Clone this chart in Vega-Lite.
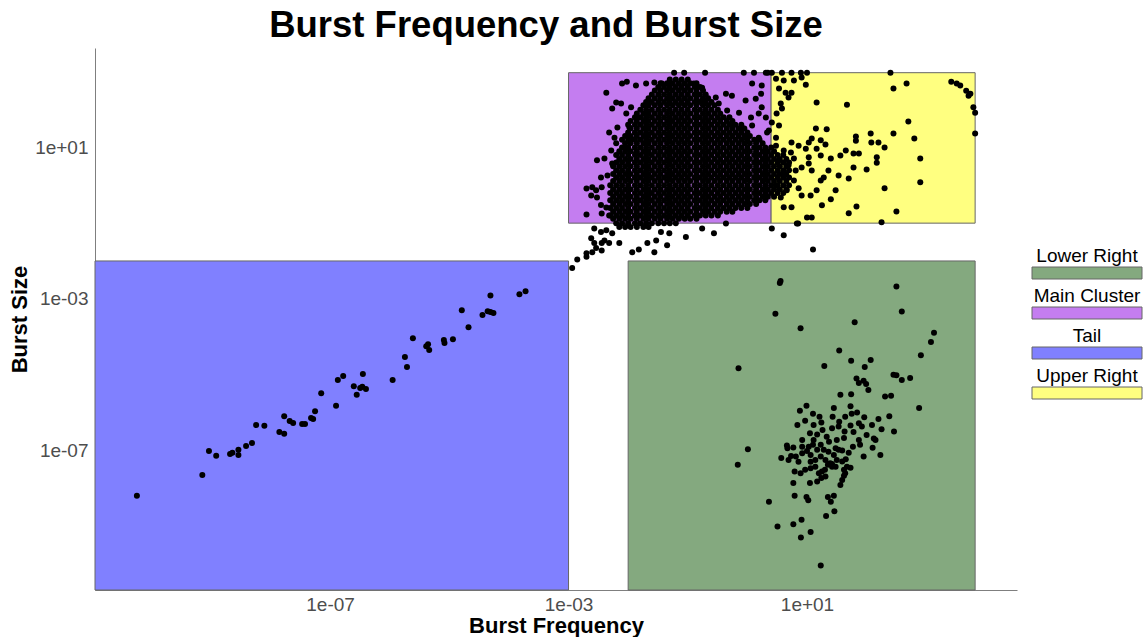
{
"$schema": "https://vega.github.io/schema/vega-lite/v6.json",
"background": "white",
"padding": {"left": 8, "top": 7, "right": 4, "bottom": 1},
"bounds": "flush",
"center": true,
"spacing": 15,
"config": {
  "view": {"stroke": null},
  "font": "Liberation Sans",
  "axis": {"grid": false, "ticks": false, "tickSize": 0, "domainColor": "#7f7f7f", "domainWidth": 1, "labelColor": "#4d4d4d", "labelFontSize": 19, "titleFontSize": 22, "titleFontWeight": "bold", "titleColor": "black", "labelPadding": 7, "labelFlush": false},
  "title": {"fontSize": 36.5, "fontWeight": "bold", "color": "black", "font": "Liberation Sans"}
},
"datasets": {
"regions": [
{"region": "Tail", "freq_min": 1.14e-11, "freq_max": 1e-3, "size_min": 2e-11, "size_max": 1e-2},
{"region": "Lower Right", "freq_min": 1e-2, "freq_max": 6610, "size_min": 2e-11, "size_max": 1e-2},
{"region": "Main Cluster", "freq_min": 1e-3, "freq_max": 2.5, "size_min": 0.1, "size_max": 950},
{"region": "Upper Right", "freq_min": 2.5, "freq_max": 6610, "size_min": 0.1, "size_max": 950}
],
"points": [
{"freq":0.05,"size":630},{"freq":0.063,"size":630},{"freq":0.079,"size":630},{"freq":0.1,"size":630},
{"freq":0.035,"size":500},{"freq":0.045,"size":500},{"freq":0.056,"size":500},{"freq":0.071,"size":500},{"freq":0.089,"size":500},{"freq":0.11,"size":500},{"freq":0.14,"size":500},
{"freq":0.032,"size":400},{"freq":0.04,"size":400},{"freq":0.05,"size":400},{"freq":0.063,"size":400},{"freq":0.079,"size":400},{"freq":0.1,"size":400},{"freq":0.13,"size":400},{"freq":0.16,"size":400},
{"freq":0.028,"size":320},{"freq":0.035,"size":320},{"freq":0.045,"size":320},{"freq":0.056,"size":320},{"freq":0.071,"size":320},{"freq":0.089,"size":320},{"freq":0.11,"size":320},{"freq":0.14,"size":320},{"freq":0.18,"size":320},
{"freq":0.025,"size":250},{"freq":0.032,"size":250},{"freq":0.04,"size":250},{"freq":0.05,"size":250},{"freq":0.063,"size":250},{"freq":0.079,"size":250},{"freq":0.1,"size":250},{"freq":0.13,"size":250},{"freq":0.16,"size":250},{"freq":0.2,"size":250},
{"freq":0.022,"size":200},{"freq":0.028,"size":200},{"freq":0.035,"size":200},{"freq":0.045,"size":200},{"freq":0.056,"size":200},{"freq":0.071,"size":200},{"freq":0.089,"size":200},{"freq":0.11,"size":200},{"freq":0.14,"size":200},{"freq":0.18,"size":200},{"freq":0.22,"size":200},
{"freq":0.02,"size":160},{"freq":0.025,"size":160},{"freq":0.032,"size":160},{"freq":0.04,"size":160},{"freq":0.05,"size":160},{"freq":0.063,"size":160},{"freq":0.079,"size":160},{"freq":0.1,"size":160},{"freq":0.13,"size":160},{"freq":0.16,"size":160},{"freq":0.2,"size":160},{"freq":0.25,"size":160},
{"freq":0.018,"size":130},{"freq":0.022,"size":130},{"freq":0.028,"size":130},{"freq":0.035,"size":130},{"freq":0.045,"size":130},{"freq":0.056,"size":130},{"freq":0.071,"size":130},{"freq":0.089,"size":130},{"freq":0.11,"size":130},{"freq":0.14,"size":130},{"freq":0.18,"size":130},{"freq":0.22,"size":130},{"freq":0.28,"size":130},
{"freq":0.016,"size":100},{"freq":0.02,"size":100},{"freq":0.025,"size":100},{"freq":0.032,"size":100},{"freq":0.04,"size":100},{"freq":0.05,"size":100},{"freq":0.063,"size":100},{"freq":0.079,"size":100},{"freq":0.1,"size":100},{"freq":0.13,"size":100},{"freq":0.16,"size":100},{"freq":0.2,"size":100},{"freq":0.25,"size":100},{"freq":0.32,"size":100},
{"freq":0.014,"size":79},{"freq":0.018,"size":79},{"freq":0.022,"size":79},{"freq":0.028,"size":79},{"freq":0.035,"size":79},{"freq":0.045,"size":79},{"freq":0.056,"size":79},{"freq":0.071,"size":79},{"freq":0.089,"size":79},{"freq":0.11,"size":79},{"freq":0.14,"size":79},{"freq":0.18,"size":79},{"freq":0.22,"size":79},{"freq":0.28,"size":79},{"freq":0.35,"size":79},
{"freq":0.013,"size":63},{"freq":0.016,"size":63},{"freq":0.02,"size":63},{"freq":0.025,"size":63},{"freq":0.032,"size":63},{"freq":0.04,"size":63},{"freq":0.05,"size":63},{"freq":0.063,"size":63},{"freq":0.079,"size":63},{"freq":0.1,"size":63},{"freq":0.13,"size":63},{"freq":0.16,"size":63},{"freq":0.2,"size":63},{"freq":0.25,"size":63},{"freq":0.32,"size":63},{"freq":0.4,"size":63},{"freq":0.5,"size":63},
{"freq":0.011,"size":50},{"freq":0.014,"size":50},{"freq":0.018,"size":50},{"freq":0.022,"size":50},{"freq":0.028,"size":50},{"freq":0.035,"size":50},{"freq":0.045,"size":50},{"freq":0.056,"size":50},{"freq":0.071,"size":50},{"freq":0.089,"size":50},{"freq":0.11,"size":50},{"freq":0.14,"size":50},{"freq":0.18,"size":50},{"freq":0.22,"size":50},{"freq":0.28,"size":50},{"freq":0.35,"size":50},{"freq":0.45,"size":50},{"freq":0.56,"size":50},
{"freq":0.01,"size":40},{"freq":0.013,"size":40},{"freq":0.016,"size":40},{"freq":0.02,"size":40},{"freq":0.025,"size":40},{"freq":0.032,"size":40},{"freq":0.04,"size":40},{"freq":0.05,"size":40},{"freq":0.063,"size":40},{"freq":0.079,"size":40},{"freq":0.1,"size":40},{"freq":0.13,"size":40},{"freq":0.16,"size":40},{"freq":0.2,"size":40},{"freq":0.25,"size":40},{"freq":0.32,"size":40},{"freq":0.4,"size":40},{"freq":0.5,"size":40},{"freq":0.63,"size":40},{"freq":0.79,"size":40},
{"freq":0.011,"size":32},{"freq":0.014,"size":32},{"freq":0.018,"size":32},{"freq":0.022,"size":32},{"freq":0.028,"size":32},{"freq":0.035,"size":32},{"freq":0.045,"size":32},{"freq":0.056,"size":32},{"freq":0.071,"size":32},{"freq":0.089,"size":32},{"freq":0.11,"size":32},{"freq":0.14,"size":32},{"freq":0.18,"size":32},{"freq":0.22,"size":32},{"freq":0.28,"size":32},{"freq":0.35,"size":32},{"freq":0.45,"size":32},{"freq":0.56,"size":32},{"freq":0.71,"size":32},{"freq":0.89,"size":32},
{"freq":0.01,"size":25},{"freq":0.013,"size":25},{"freq":0.016,"size":25},{"freq":0.02,"size":25},{"freq":0.025,"size":25},{"freq":0.032,"size":25},{"freq":0.04,"size":25},{"freq":0.05,"size":25},{"freq":0.063,"size":25},{"freq":0.079,"size":25},{"freq":0.1,"size":25},{"freq":0.13,"size":25},{"freq":0.16,"size":25},{"freq":0.2,"size":25},{"freq":0.25,"size":25},{"freq":0.32,"size":25},{"freq":0.4,"size":25},{"freq":0.5,"size":25},{"freq":0.63,"size":25},{"freq":0.79,"size":25},{"freq":1,"size":25},
{"freq":0.0089,"size":20},{"freq":0.011,"size":20},{"freq":0.014,"size":20},{"freq":0.018,"size":20},{"freq":0.022,"size":20},{"freq":0.028,"size":20},{"freq":0.035,"size":20},{"freq":0.045,"size":20},{"freq":0.056,"size":20},{"freq":0.071,"size":20},{"freq":0.089,"size":20},{"freq":0.11,"size":20},{"freq":0.14,"size":20},{"freq":0.18,"size":20},{"freq":0.22,"size":20},{"freq":0.28,"size":20},{"freq":0.35,"size":20},{"freq":0.45,"size":20},{"freq":0.56,"size":20},{"freq":0.71,"size":20},{"freq":0.89,"size":20},{"freq":1.1,"size":20},
{"freq":0.0079,"size":16},{"freq":0.01,"size":16},{"freq":0.013,"size":16},{"freq":0.016,"size":16},{"freq":0.02,"size":16},{"freq":0.025,"size":16},{"freq":0.032,"size":16},{"freq":0.04,"size":16},{"freq":0.05,"size":16},{"freq":0.063,"size":16},{"freq":0.079,"size":16},{"freq":0.1,"size":16},{"freq":0.13,"size":16},{"freq":0.16,"size":16},{"freq":0.2,"size":16},{"freq":0.25,"size":16},{"freq":0.32,"size":16},{"freq":0.4,"size":16},{"freq":0.5,"size":16},{"freq":0.63,"size":16},{"freq":0.79,"size":16},{"freq":1,"size":16},{"freq":1.3,"size":16},{"freq":1.6,"size":16},
{"freq":0.0089,"size":13},{"freq":0.011,"size":13},{"freq":0.014,"size":13},{"freq":0.018,"size":13},{"freq":0.022,"size":13},{"freq":0.028,"size":13},{"freq":0.035,"size":13},{"freq":0.045,"size":13},{"freq":0.056,"size":13},{"freq":0.071,"size":13},{"freq":0.089,"size":13},{"freq":0.11,"size":13},{"freq":0.14,"size":13},{"freq":0.18,"size":13},{"freq":0.22,"size":13},{"freq":0.28,"size":13},{"freq":0.35,"size":13},{"freq":0.45,"size":13},{"freq":0.56,"size":13},{"freq":0.71,"size":13},{"freq":0.89,"size":13},{"freq":1.1,"size":13},{"freq":1.4,"size":13},{"freq":1.8,"size":13},
{"freq":0.0079,"size":10},{"freq":0.01,"size":10},{"freq":0.013,"size":10},{"freq":0.016,"size":10},{"freq":0.02,"size":10},{"freq":0.025,"size":10},{"freq":0.032,"size":10},{"freq":0.04,"size":10},{"freq":0.05,"size":10},{"freq":0.063,"size":10},{"freq":0.079,"size":10},{"freq":0.1,"size":10},{"freq":0.13,"size":10},{"freq":0.16,"size":10},{"freq":0.2,"size":10},{"freq":0.25,"size":10},{"freq":0.32,"size":10},{"freq":0.4,"size":10},{"freq":0.5,"size":10},{"freq":0.63,"size":10},{"freq":0.79,"size":10},{"freq":1,"size":10},{"freq":1.3,"size":10},{"freq":1.6,"size":10},{"freq":2,"size":10},{"freq":2.5,"size":10},
{"freq":0.0071,"size":7.9},{"freq":0.0089,"size":7.9},{"freq":0.011,"size":7.9},{"freq":0.014,"size":7.9},{"freq":0.018,"size":7.9},{"freq":0.022,"size":7.9},{"freq":0.028,"size":7.9},{"freq":0.035,"size":7.9},{"freq":0.045,"size":7.9},{"freq":0.056,"size":7.9},{"freq":0.071,"size":7.9},{"freq":0.089,"size":7.9},{"freq":0.11,"size":7.9},{"freq":0.14,"size":7.9},{"freq":0.18,"size":7.9},{"freq":0.22,"size":7.9},{"freq":0.28,"size":7.9},{"freq":0.35,"size":7.9},{"freq":0.45,"size":7.9},{"freq":0.56,"size":7.9},{"freq":0.71,"size":7.9},{"freq":0.89,"size":7.9},{"freq":1.1,"size":7.9},{"freq":1.4,"size":7.9},{"freq":1.8,"size":7.9},{"freq":2.2,"size":7.9},{"freq":2.8,"size":7.9},
{"freq":0.0063,"size":6.3},{"freq":0.0079,"size":6.3},{"freq":0.01,"size":6.3},{"freq":0.013,"size":6.3},{"freq":0.016,"size":6.3},{"freq":0.02,"size":6.3},{"freq":0.025,"size":6.3},{"freq":0.032,"size":6.3},{"freq":0.04,"size":6.3},{"freq":0.05,"size":6.3},{"freq":0.063,"size":6.3},{"freq":0.079,"size":6.3},{"freq":0.1,"size":6.3},{"freq":0.13,"size":6.3},{"freq":0.16,"size":6.3},{"freq":0.2,"size":6.3},{"freq":0.25,"size":6.3},{"freq":0.32,"size":6.3},{"freq":0.4,"size":6.3},{"freq":0.5,"size":6.3},{"freq":0.63,"size":6.3},{"freq":0.79,"size":6.3},{"freq":1,"size":6.3},{"freq":1.3,"size":6.3},{"freq":1.6,"size":6.3},{"freq":2,"size":6.3},{"freq":2.5,"size":6.3},{"freq":3.2,"size":6.3},{"freq":4,"size":6.3},
{"freq":0.0071,"size":5},{"freq":0.0089,"size":5},{"freq":0.011,"size":5},{"freq":0.014,"size":5},{"freq":0.018,"size":5},{"freq":0.022,"size":5},{"freq":0.028,"size":5},{"freq":0.035,"size":5},{"freq":0.045,"size":5},{"freq":0.056,"size":5},{"freq":0.071,"size":5},{"freq":0.089,"size":5},{"freq":0.11,"size":5},{"freq":0.14,"size":5},{"freq":0.18,"size":5},{"freq":0.22,"size":5},{"freq":0.28,"size":5},{"freq":0.35,"size":5},{"freq":0.45,"size":5},{"freq":0.56,"size":5},{"freq":0.71,"size":5},{"freq":0.89,"size":5},{"freq":1.1,"size":5},{"freq":1.4,"size":5},{"freq":1.8,"size":5},{"freq":2.2,"size":5},{"freq":2.8,"size":5},{"freq":3.5,"size":5},{"freq":4.5,"size":5},
{"freq":0.0063,"size":4},{"freq":0.0079,"size":4},{"freq":0.01,"size":4},{"freq":0.013,"size":4},{"freq":0.016,"size":4},{"freq":0.02,"size":4},{"freq":0.025,"size":4},{"freq":0.032,"size":4},{"freq":0.04,"size":4},{"freq":0.05,"size":4},{"freq":0.063,"size":4},{"freq":0.079,"size":4},{"freq":0.1,"size":4},{"freq":0.13,"size":4},{"freq":0.16,"size":4},{"freq":0.2,"size":4},{"freq":0.25,"size":4},{"freq":0.32,"size":4},{"freq":0.4,"size":4},{"freq":0.5,"size":4},{"freq":0.63,"size":4},{"freq":0.79,"size":4},{"freq":1,"size":4},{"freq":1.3,"size":4},{"freq":1.6,"size":4},{"freq":2,"size":4},{"freq":2.5,"size":4},{"freq":3.2,"size":4},{"freq":4,"size":4},{"freq":5,"size":4},
{"freq":0.0056,"size":3.2},{"freq":0.0071,"size":3.2},{"freq":0.0089,"size":3.2},{"freq":0.011,"size":3.2},{"freq":0.014,"size":3.2},{"freq":0.018,"size":3.2},{"freq":0.022,"size":3.2},{"freq":0.028,"size":3.2},{"freq":0.035,"size":3.2},{"freq":0.045,"size":3.2},{"freq":0.056,"size":3.2},{"freq":0.071,"size":3.2},{"freq":0.089,"size":3.2},{"freq":0.11,"size":3.2},{"freq":0.14,"size":3.2},{"freq":0.18,"size":3.2},{"freq":0.22,"size":3.2},{"freq":0.28,"size":3.2},{"freq":0.35,"size":3.2},{"freq":0.45,"size":3.2},{"freq":0.56,"size":3.2},{"freq":0.71,"size":3.2},{"freq":0.89,"size":3.2},{"freq":1.1,"size":3.2},{"freq":1.4,"size":3.2},{"freq":1.8,"size":3.2},{"freq":2.2,"size":3.2},{"freq":2.8,"size":3.2},{"freq":3.5,"size":3.2},{"freq":4.5,"size":3.2},
{"freq":0.0063,"size":2.5},{"freq":0.0079,"size":2.5},{"freq":0.01,"size":2.5},{"freq":0.013,"size":2.5},{"freq":0.016,"size":2.5},{"freq":0.02,"size":2.5},{"freq":0.025,"size":2.5},{"freq":0.032,"size":2.5},{"freq":0.04,"size":2.5},{"freq":0.05,"size":2.5},{"freq":0.063,"size":2.5},{"freq":0.079,"size":2.5},{"freq":0.1,"size":2.5},{"freq":0.13,"size":2.5},{"freq":0.16,"size":2.5},{"freq":0.2,"size":2.5},{"freq":0.25,"size":2.5},{"freq":0.32,"size":2.5},{"freq":0.4,"size":2.5},{"freq":0.5,"size":2.5},{"freq":0.63,"size":2.5},{"freq":0.79,"size":2.5},{"freq":1,"size":2.5},{"freq":1.3,"size":2.5},{"freq":1.6,"size":2.5},{"freq":2,"size":2.5},{"freq":2.5,"size":2.5},{"freq":3.2,"size":2.5},{"freq":4,"size":2.5},{"freq":5,"size":2.5},
{"freq":0.0056,"size":2},{"freq":0.0071,"size":2},{"freq":0.0089,"size":2},{"freq":0.011,"size":2},{"freq":0.014,"size":2},{"freq":0.018,"size":2},{"freq":0.022,"size":2},{"freq":0.028,"size":2},{"freq":0.035,"size":2},{"freq":0.045,"size":2},{"freq":0.056,"size":2},{"freq":0.071,"size":2},{"freq":0.089,"size":2},{"freq":0.11,"size":2},{"freq":0.14,"size":2},{"freq":0.18,"size":2},{"freq":0.22,"size":2},{"freq":0.28,"size":2},{"freq":0.35,"size":2},{"freq":0.45,"size":2},{"freq":0.56,"size":2},{"freq":0.71,"size":2},{"freq":0.89,"size":2},{"freq":1.1,"size":2},{"freq":1.4,"size":2},{"freq":1.8,"size":2},{"freq":2.2,"size":2},{"freq":2.8,"size":2},{"freq":3.5,"size":2},{"freq":4.5,"size":2},
{"freq":0.0063,"size":1.6},{"freq":0.0079,"size":1.6},{"freq":0.01,"size":1.6},{"freq":0.013,"size":1.6},{"freq":0.016,"size":1.6},{"freq":0.02,"size":1.6},{"freq":0.025,"size":1.6},{"freq":0.032,"size":1.6},{"freq":0.04,"size":1.6},{"freq":0.05,"size":1.6},{"freq":0.063,"size":1.6},{"freq":0.079,"size":1.6},{"freq":0.1,"size":1.6},{"freq":0.13,"size":1.6},{"freq":0.16,"size":1.6},{"freq":0.2,"size":1.6},{"freq":0.25,"size":1.6},{"freq":0.32,"size":1.6},{"freq":0.4,"size":1.6},{"freq":0.5,"size":1.6},{"freq":0.63,"size":1.6},{"freq":0.79,"size":1.6},{"freq":1,"size":1.6},{"freq":1.3,"size":1.6},{"freq":1.6,"size":1.6},{"freq":2,"size":1.6},{"freq":2.5,"size":1.6},{"freq":3.2,"size":1.6},{"freq":4,"size":1.6},{"freq":5,"size":1.6},
{"freq":0.0056,"size":1.3},{"freq":0.0071,"size":1.3},{"freq":0.0089,"size":1.3},{"freq":0.011,"size":1.3},{"freq":0.014,"size":1.3},{"freq":0.018,"size":1.3},{"freq":0.022,"size":1.3},{"freq":0.028,"size":1.3},{"freq":0.035,"size":1.3},{"freq":0.045,"size":1.3},{"freq":0.056,"size":1.3},{"freq":0.071,"size":1.3},{"freq":0.089,"size":1.3},{"freq":0.11,"size":1.3},{"freq":0.14,"size":1.3},{"freq":0.18,"size":1.3},{"freq":0.22,"size":1.3},{"freq":0.28,"size":1.3},{"freq":0.35,"size":1.3},{"freq":0.45,"size":1.3},{"freq":0.56,"size":1.3},{"freq":0.71,"size":1.3},{"freq":0.89,"size":1.3},{"freq":1.1,"size":1.3},{"freq":1.4,"size":1.3},{"freq":1.8,"size":1.3},{"freq":2.2,"size":1.3},{"freq":2.8,"size":1.3},{"freq":3.5,"size":1.3},{"freq":4.5,"size":1.3},
{"freq":0.005,"size":1},{"freq":0.0063,"size":1},{"freq":0.0079,"size":1},{"freq":0.01,"size":1},{"freq":0.013,"size":1},{"freq":0.016,"size":1},{"freq":0.02,"size":1},{"freq":0.025,"size":1},{"freq":0.032,"size":1},{"freq":0.04,"size":1},{"freq":0.05,"size":1},{"freq":0.063,"size":1},{"freq":0.079,"size":1},{"freq":0.1,"size":1},{"freq":0.13,"size":1},{"freq":0.16,"size":1},{"freq":0.2,"size":1},{"freq":0.25,"size":1},{"freq":0.32,"size":1},{"freq":0.4,"size":1},{"freq":0.5,"size":1},{"freq":0.63,"size":1},{"freq":0.79,"size":1},{"freq":1,"size":1},{"freq":1.3,"size":1},{"freq":1.6,"size":1},{"freq":2,"size":1},{"freq":2.5,"size":1},{"freq":3.2,"size":1},{"freq":4,"size":1},{"freq":5,"size":1},
{"freq":0.0056,"size":0.79},{"freq":0.0071,"size":0.79},{"freq":0.0089,"size":0.79},{"freq":0.011,"size":0.79},{"freq":0.014,"size":0.79},{"freq":0.018,"size":0.79},{"freq":0.022,"size":0.79},{"freq":0.028,"size":0.79},{"freq":0.035,"size":0.79},{"freq":0.045,"size":0.79},{"freq":0.056,"size":0.79},{"freq":0.071,"size":0.79},{"freq":0.089,"size":0.79},{"freq":0.11,"size":0.79},{"freq":0.14,"size":0.79},{"freq":0.18,"size":0.79},{"freq":0.22,"size":0.79},{"freq":0.28,"size":0.79},{"freq":0.35,"size":0.79},{"freq":0.45,"size":0.79},{"freq":0.56,"size":0.79},{"freq":0.71,"size":0.79},{"freq":0.89,"size":0.79},{"freq":1.1,"size":0.79},{"freq":1.4,"size":0.79},{"freq":1.8,"size":0.79},{"freq":2.2,"size":0.79},{"freq":2.8,"size":0.79},{"freq":3.5,"size":0.79},{"freq":4.5,"size":0.79},
{"freq":0.005,"size":0.63},{"freq":0.0063,"size":0.63},{"freq":0.0079,"size":0.63},{"freq":0.01,"size":0.63},{"freq":0.013,"size":0.63},{"freq":0.016,"size":0.63},{"freq":0.02,"size":0.63},{"freq":0.025,"size":0.63},{"freq":0.032,"size":0.63},{"freq":0.04,"size":0.63},{"freq":0.05,"size":0.63},{"freq":0.063,"size":0.63},{"freq":0.079,"size":0.63},{"freq":0.1,"size":0.63},{"freq":0.13,"size":0.63},{"freq":0.16,"size":0.63},{"freq":0.2,"size":0.63},{"freq":0.25,"size":0.63},{"freq":0.32,"size":0.63},{"freq":0.4,"size":0.63},{"freq":0.5,"size":0.63},{"freq":0.63,"size":0.63},{"freq":0.79,"size":0.63},{"freq":1,"size":0.63},{"freq":1.3,"size":0.63},{"freq":1.6,"size":0.63},{"freq":2,"size":0.63},{"freq":2.5,"size":0.63},{"freq":3.2,"size":0.63},{"freq":4,"size":0.63},
{"freq":0.0056,"size":0.5},{"freq":0.0071,"size":0.5},{"freq":0.0089,"size":0.5},{"freq":0.011,"size":0.5},{"freq":0.014,"size":0.5},{"freq":0.018,"size":0.5},{"freq":0.022,"size":0.5},{"freq":0.028,"size":0.5},{"freq":0.035,"size":0.5},{"freq":0.045,"size":0.5},{"freq":0.056,"size":0.5},{"freq":0.071,"size":0.5},{"freq":0.089,"size":0.5},{"freq":0.11,"size":0.5},{"freq":0.14,"size":0.5},{"freq":0.18,"size":0.5},{"freq":0.22,"size":0.5},{"freq":0.28,"size":0.5},{"freq":0.35,"size":0.5},{"freq":0.45,"size":0.5},{"freq":0.56,"size":0.5},{"freq":0.71,"size":0.5},{"freq":0.89,"size":0.5},{"freq":1.1,"size":0.5},{"freq":1.4,"size":0.5},{"freq":1.8,"size":0.5},{"freq":2.2,"size":0.5},{"freq":2.8,"size":0.5},
{"freq":0.005,"size":0.4},{"freq":0.0063,"size":0.4},{"freq":0.0079,"size":0.4},{"freq":0.01,"size":0.4},{"freq":0.013,"size":0.4},{"freq":0.016,"size":0.4},{"freq":0.02,"size":0.4},{"freq":0.025,"size":0.4},{"freq":0.032,"size":0.4},{"freq":0.04,"size":0.4},{"freq":0.05,"size":0.4},{"freq":0.063,"size":0.4},{"freq":0.079,"size":0.4},{"freq":0.1,"size":0.4},{"freq":0.13,"size":0.4},{"freq":0.16,"size":0.4},{"freq":0.2,"size":0.4},{"freq":0.25,"size":0.4},{"freq":0.32,"size":0.4},{"freq":0.4,"size":0.4},{"freq":0.5,"size":0.4},{"freq":0.63,"size":0.4},{"freq":0.79,"size":0.4},{"freq":1,"size":0.4},{"freq":1.3,"size":0.4},{"freq":1.6,"size":0.4},{"freq":2,"size":0.4},
{"freq":0.0056,"size":0.32},{"freq":0.0071,"size":0.32},{"freq":0.0089,"size":0.32},{"freq":0.011,"size":0.32},{"freq":0.014,"size":0.32},{"freq":0.018,"size":0.32},{"freq":0.022,"size":0.32},{"freq":0.028,"size":0.32},{"freq":0.035,"size":0.32},{"freq":0.045,"size":0.32},{"freq":0.056,"size":0.32},{"freq":0.071,"size":0.32},{"freq":0.089,"size":0.32},{"freq":0.11,"size":0.32},{"freq":0.14,"size":0.32},{"freq":0.18,"size":0.32},{"freq":0.22,"size":0.32},{"freq":0.28,"size":0.32},{"freq":0.35,"size":0.32},{"freq":0.45,"size":0.32},{"freq":0.56,"size":0.32},{"freq":0.71,"size":0.32},{"freq":0.89,"size":0.32},{"freq":1.1,"size":0.32},{"freq":1.4,"size":0.32},
{"freq":0.005,"size":0.25},{"freq":0.0063,"size":0.25},{"freq":0.0079,"size":0.25},{"freq":0.01,"size":0.25},{"freq":0.013,"size":0.25},{"freq":0.016,"size":0.25},{"freq":0.02,"size":0.25},{"freq":0.025,"size":0.25},{"freq":0.032,"size":0.25},{"freq":0.04,"size":0.25},{"freq":0.05,"size":0.25},{"freq":0.063,"size":0.25},{"freq":0.079,"size":0.25},{"freq":0.1,"size":0.25},{"freq":0.13,"size":0.25},{"freq":0.16,"size":0.25},{"freq":0.2,"size":0.25},{"freq":0.25,"size":0.25},{"freq":0.32,"size":0.25},{"freq":0.4,"size":0.25},{"freq":0.5,"size":0.25},{"freq":0.63,"size":0.25},{"freq":0.79,"size":0.25},{"freq":1,"size":0.25},
{"freq":0.0056,"size":0.2},{"freq":0.0071,"size":0.2},{"freq":0.0089,"size":0.2},{"freq":0.011,"size":0.2},{"freq":0.014,"size":0.2},{"freq":0.018,"size":0.2},{"freq":0.022,"size":0.2},{"freq":0.028,"size":0.2},{"freq":0.035,"size":0.2},{"freq":0.045,"size":0.2},{"freq":0.056,"size":0.2},{"freq":0.071,"size":0.2},{"freq":0.089,"size":0.2},{"freq":0.11,"size":0.2},{"freq":0.14,"size":0.2},{"freq":0.18,"size":0.2},{"freq":0.22,"size":0.2},{"freq":0.28,"size":0.2},{"freq":0.35,"size":0.2},{"freq":0.45,"size":0.2},{"freq":0.56,"size":0.2},
{"freq":0.005,"size":0.16},{"freq":0.0063,"size":0.16},{"freq":0.0079,"size":0.16},{"freq":0.01,"size":0.16},{"freq":0.013,"size":0.16},{"freq":0.016,"size":0.16},{"freq":0.02,"size":0.16},{"freq":0.025,"size":0.16},{"freq":0.032,"size":0.16},{"freq":0.04,"size":0.16},{"freq":0.05,"size":0.16},{"freq":0.063,"size":0.16},{"freq":0.079,"size":0.16},{"freq":0.1,"size":0.16},{"freq":0.13,"size":0.16},{"freq":0.16,"size":0.16},{"freq":0.2,"size":0.16},{"freq":0.25,"size":0.16},{"freq":0.32,"size":0.16},
{"freq":0.0056,"size":0.13},{"freq":0.0071,"size":0.13},{"freq":0.0089,"size":0.13},{"freq":0.011,"size":0.13},{"freq":0.014,"size":0.13},{"freq":0.018,"size":0.13},{"freq":0.022,"size":0.13},{"freq":0.028,"size":0.13},{"freq":0.035,"size":0.13},{"freq":0.045,"size":0.13},{"freq":0.056,"size":0.13},{"freq":0.071,"size":0.13},{"freq":0.089,"size":0.13},{"freq":0.11,"size":0.13},{"freq":0.14,"size":0.13},
{"freq":0.0063,"size":0.1},{"freq":0.0079,"size":0.1},{"freq":0.01,"size":0.1},{"freq":0.013,"size":0.1},{"freq":0.016,"size":0.1},{"freq":0.02,"size":0.1},{"freq":0.025,"size":0.1},{"freq":0.032,"size":0.1},{"freq":0.04,"size":0.1},{"freq":0.05,"size":0.1},{"freq":0.063,"size":0.1},
{"freq":0.0071,"size":0.079},{"freq":0.0089,"size":0.079},{"freq":0.011,"size":0.079},{"freq":0.014,"size":0.079},{"freq":0.018,"size":0.079},{"freq":0.022,"size":0.079},
{"freq":0.059,"size":950},{"freq":0.087,"size":950},{"freq":0.195,"size":950},{"freq":0.87,"size":950},{"freq":1.29,"size":950},{"freq":2.04,"size":950},{"freq":2.2,"size":950},{"freq":2.57,"size":950},{"freq":3.8,"size":950},{"freq":5.5,"size":950},{"freq":7.9,"size":950},{"freq":10,"size":950},{"freq":251,"size":950},
{"freq":0.0079,"size":490},{"freq":0.0095,"size":550},{"freq":0.0043,"size":282},{"freq":0.0135,"size":437},{"freq":0.02,"size":490},{"freq":0.0275,"size":525},{"freq":0.037,"size":490},{"freq":0.0054,"size":107},{"freq":0.0076,"size":145},{"freq":0.0112,"size":115},{"freq":0.0063,"size":155},{"freq":0.0093,"size":79},{"freq":0.0135,"size":62},{"freq":0.0048,"size":25},{"freq":0.0066,"size":34},{"freq":0.0105,"size":34},{"freq":0.0059,"size":18},{"freq":0.0112,"size":17.4},{"freq":0.0052,"size":8.3},{"freq":0.0063,"size":12.9},{"freq":0.0093,"size":10},{"freq":0.0135,"size":6.9},{"freq":0.003,"size":4.6},{"freq":0.004,"size":5.1},{"freq":0.0054,"size":3.8},{"freq":0.0035,"size":1.62},{"freq":0.0045,"size":1.82},{"freq":0.002,"size":0.83},{"freq":0.0025,"size":0.89},{"freq":0.0029,"size":0.74},{"freq":0.0036,"size":0.89},{"freq":0.0024,"size":0.54},{"freq":0.003,"size":0.48},{"freq":0.0035,"size":0.3},{"freq":0.0043,"size":0.26},{"freq":0.002,"size":0.17},{"freq":0.0036,"size":0.18},{"freq":0.0048,"size":0.16},{"freq":0.0027,"size":0.072},{"freq":0.0035,"size":0.058},{"freq":0.0043,"size":0.065},{"freq":0.0024,"size":0.04},{"freq":0.0027,"size":0.03},{"freq":0.0036,"size":0.03},{"freq":0.002,"size":0.016},{"freq":0.0014,"size":0.011},{"freq":0.00115,"size":0.0065},{"freq":0.002,"size":0.013},{"freq":0.0025,"size":0.017},{"freq":0.0029,"size":0.022},{"freq":0.0036,"size":0.019},{"freq":0.0048,"size":0.03},{"freq":0.004,"size":0.035},{"freq":0.0054,"size":0.054},{"freq":0.0071,"size":0.03},{"freq":0.0117,"size":0.017},{"freq":0.0151,"size":0.02},{"freq":0.021,"size":0.03},{"freq":0.0275,"size":0.017},{"freq":0.045,"size":0.026},{"freq":0.0295,"size":0.035},{"freq":0.0355,"size":0.058},{"freq":0.049,"size":0.054},{"freq":0.093,"size":0.043},{"freq":0.275,"size":0.054},{"freq":0.174,"size":0.072},{"freq":0.437,"size":0.098},{"freq":2.57,"size":0.072},{"freq":4.07,"size":0.048},{"freq":6.76,"size":0.098},{"freq":12.6,"size":0.02},
{"freq":0.126,"size":490},{"freq":0.174,"size":380},{"freq":0.138,"size":263},{"freq":0.174,"size":174},{"freq":0.295,"size":209},{"freq":0.437,"size":263},{"freq":0.55,"size":234},{"freq":0.331,"size":145},{"freq":0.457,"size":95},{"freq":0.724,"size":83},{"freq":0.933,"size":174},{"freq":1.38,"size":195},{"freq":1.7,"size":263},{"freq":1.74,"size":437},{"freq":1.2,"size":490},{"freq":1.74,"size":115},{"freq":1.15,"size":62},{"freq":0.55,"size":44},{"freq":0.81,"size":34},{"freq":1.2,"size":38},{"freq":1.55,"size":79},{"freq":2.04,"size":62},{"freq":0.93,"size":18.2},{"freq":1.55,"size":18.2},{"freq":2.14,"size":25.1},
{"freq":3.02,"size":661},{"freq":4.07,"size":589},{"freq":6.03,"size":589},{"freq":8.13,"size":708},{"freq":9.55,"size":457},{"freq":3.39,"size":363},{"freq":4.37,"size":282},{"freq":5.5,"size":282},{"freq":4.9,"size":209},{"freq":14.5,"size":155},{"freq":46.8,"size":135},{"freq":282,"size":363},{"freq":468,"size":490},{"freq":2630,"size":550},{"freq":3240,"size":490},{"freq":3720,"size":437},{"freq":4680,"size":316},{"freq":5130,"size":234},{"freq":5500,"size":263},{"freq":6170,"size":115},{"freq":6610,"size":83},{"freq":6610,"size":23.4},
{"freq":3.63,"size":145},{"freq":3.8,"size":107},{"freq":3.09,"size":79},{"freq":2.57,"size":45.7},{"freq":3.39,"size":38},{"freq":2.29,"size":28.2},{"freq":3.02,"size":18.2},{"freq":14.1,"size":31.6},{"freq":21.4,"size":30.2},{"freq":12,"size":17.4},{"freq":17,"size":15.5},{"freq":10.7,"size":13.5},{"freq":66.1,"size":19.5},{"freq":66.1,"size":15.1},{"freq":117,"size":23.4},{"freq":120,"size":13.5},{"freq":158,"size":13.5},{"freq":200,"size":10},{"freq":282,"size":23.4},{"freq":501,"size":49},{"freq":631,"size":17.4},
{"freq":5.5,"size":13.5},{"freq":7.24,"size":11.2},{"freq":9.55,"size":9.33},{"freq":5.37,"size":7.41},{"freq":10.7,"size":5.5},{"freq":14.5,"size":9.33},{"freq":20.4,"size":12},{"freq":17,"size":6.17},{"freq":25.1,"size":5.13},{"freq":36.3,"size":6.17},{"freq":44.7,"size":8.32},{"freq":60.3,"size":6.92},{"freq":74.1,"size":6.92},{"freq":148,"size":5.5},{"freq":148,"size":3.98},{"freq":100,"size":2.63},{"freq":60.3,"size":2.95},{"freq":50.1,"size":1.51},{"freq":33.9,"size":1.82},{"freq":22.9,"size":2.45},{"freq":19.1,"size":1.62},{"freq":17,"size":1.35},{"freq":12,"size":2.45},{"freq":10.7,"size":3.8},{"freq":8.13,"size":2.95},{"freq":794,"size":5.13},{"freq":794,"size":1.2},{"freq":200,"size":0.832},{"freq":30.2,"size":0.741},{"freq":14.5,"size":0.741},{"freq":11.5,"size":0.537},{"freq":8.13,"size":0.537},{"freq":25.1,"size":0.427},{"freq":17.8,"size":0.295},{"freq":4.07,"size":0.263},{"freq":5.5,"size":0.263},{"freq":67.6,"size":0.275},{"freq":50.1,"size":0.182},{"freq":316,"size":0.204},{"freq":12,"size":0.141},{"freq":10,"size":0.141},{"freq":7.08,"size":0.0977},{"freq":178,"size":0.105},
{"freq":3.02,"size":11.2},{"freq":4.07,"size":8.32},{"freq":3.39,"size":4.57},{"freq":4.9,"size":3.39},{"freq":4.07,"size":1.82},{"freq":6.03,"size":1.35},{"freq":3.02,"size":1},{"freq":4.57,"size":0.741},{"freq":6.46,"size":2.45},{"freq":3.63,"size":0.479},{"freq":7.24,"size":0.832},{"freq":6.03,"size":5.13},
{"freq":5.75e-11,"size":6.2e-9},{"freq":7.2e-10,"size":2.2e-8},{"freq":9.3e-10,"size":9.5e-8},{"freq":1.23e-9,"size":7.1e-8},{"freq":2.1e-9,"size":7.9e-8},{"freq":2.3e-9,"size":8.5e-8},{"freq":2.9e-9,"size":1.02e-7},{"freq":2.9e-9,"size":7.4e-8},{"freq":3.9e-9,"size":1.29e-7},{"freq":4.9e-9,"size":1.55e-7},{"freq":5.75e-9,"size":4.6e-7},{"freq":7.9e-9,"size":4.4e-7},{"freq":1.41e-8,"size":3e-7},{"freq":1.7e-8,"size":2.7e-7},{"freq":1.7e-8,"size":7.9e-7},{"freq":2.1e-8,"size":5.9e-7},{"freq":2.4e-8,"size":5.2e-7},{"freq":3.4e-8,"size":4.9e-7},{"freq":3.8e-8,"size":4.9e-7},{"freq":4.8e-8,"size":7.1e-7},{"freq":5.2e-8,"size":6.6e-7},{"freq":5.6e-8,"size":1.07e-6},{"freq":7.1e-8,"size":3.2e-6},{"freq":1.26e-7,"size":1.48e-6},{"freq":1.35e-7,"size":7.1e-6},{"freq":1.66e-7,"size":9.1e-6},{"freq":2.5e-7,"size":4.9e-6},{"freq":3.2e-7,"size":4.4e-6},{"freq":3.55e-7,"size":1.02e-5},{"freq":3.47e-7,"size":4.7e-6},{"freq":4e-7,"size":4.1e-6},{"freq":2.8e-7,"size":2.9e-6},{"freq":1.12e-6,"size":7.1e-6},{"freq":1.8e-6,"size":2.9e-5},{"freq":1.95e-6,"size":1.58e-5},{"freq":2.45e-6,"size":9.1e-5},{"freq":4.1e-6,"size":5.6e-5},{"freq":4.4e-6,"size":6.3e-5},{"freq":4.6e-6,"size":4.4e-5},{"freq":8.1e-6,"size":8.1e-5},{"freq":8.3e-6,"size":6.8e-5},{"freq":1.15e-5,"size":8.5e-5},{"freq":1.62e-5,"size":5e-4},{"freq":2.1e-5,"size":1.78e-4},{"freq":3.6e-5,"size":3.7e-4},{"freq":4.4e-5,"size":4.7e-4},{"freq":4.9e-5,"size":4.5e-4},{"freq":5.5e-5,"size":4.2e-4},{"freq":4.9e-5,"size":1.23e-3},{"freq":1.5e-4,"size":1.32e-3},{"freq":1.9e-4,"size":1.58e-3},
{"freq":3.6,"size":2.95e-3},{"freq":3.5,"size":2.6e-3},{"freq":316,"size":2.1e-3},{"freq":2.95,"size":4e-4},{"freq":389,"size":4.6e-4},{"freq":7.8,"size":1.66e-4},{"freq":63,"size":2.4e-4},{"freq":1350,"size":1.26e-4},{"freq":1200,"size":7.2e-5},{"freq":813,"size":3.2e-5},{"freq":34.7,"size":4.3e-5},{"freq":55,"size":2.3e-5},{"freq":117,"size":2.4e-5},{"freq":93,"size":1.58e-5},{"freq":19.5,"size":1.66e-5},{"freq":0.71,"size":1.45e-5},{"freq":282,"size":9.8e-6},{"freq":316,"size":9.5e-6},{"freq":389,"size":7.1e-6},{"freq":537,"size":8.1e-6},{"freq":67.6,"size":7.8e-6},{"freq":74,"size":5.9e-6},{"freq":89,"size":6.8e-6},{"freq":98,"size":5.6e-6},{"freq":107,"size":3.9e-6},{"freq":36.3,"size":2.9e-6},{"freq":55,"size":3e-6},{"freq":204,"size":2.6e-6},{"freq":257,"size":2.75e-6},{"freq":759,"size":1.29e-6},{"freq":9.8,"size":1.48e-6},{"freq":7.6,"size":1.1e-6},{"freq":28.2,"size":1.29e-6},{"freq":53.7,"size":1.45e-6},{"freq":12.6,"size":9.1e-7},{"freq":16.2,"size":7.6e-7},{"freq":17.4,"size":5.4e-7},{"freq":9.3,"size":6e-7},{"freq":6.9,"size":4.6e-7},{"freq":26.9,"size":7.6e-7},{"freq":34.7,"size":5.6e-7},{"freq":43.7,"size":7.6e-7},{"freq":56.2,"size":9.1e-7},{"freq":69.2,"size":9.8e-7},{"freq":91.2,"size":7.4e-7},{"freq":158,"size":6.6e-7},{"freq":240,"size":7.8e-7},{"freq":11.2,"size":2.8e-7},{"freq":14.8,"size":2.6e-7},{"freq":26.3,"size":3.8e-7},{"freq":33.9,"size":4.2e-7},{"freq":42.7,"size":3.1e-7},{"freq":53.7,"size":4.5e-7},{"freq":74.1,"size":5.1e-7},{"freq":83.2,"size":4.2e-7},{"freq":123,"size":4.6e-7},{"freq":178,"size":3.55e-7},{"freq":288,"size":3.1e-7},{"freq":8.3,"size":1.86e-7},{"freq":8.3,"size":1.23e-7},{"freq":4.6,"size":1.32e-7},{"freq":4.7,"size":1.12e-7},{"freq":5.9,"size":1.17e-7},{"freq":6.5,"size":6.8e-8},{"freq":3.7,"size":6.2e-8},{"freq":4.9,"size":5.5e-8},{"freq":5.4,"size":7e-8},{"freq":10.7,"size":1.23e-7},{"freq":12.6,"size":1.38e-7},{"freq":17,"size":1.38e-7},{"freq":19.1,"size":1.02e-7},{"freq":22.9,"size":9.1e-8},{"freq":30.2,"size":1.12e-7},{"freq":33.9,"size":1.02e-7},{"freq":38.9,"size":9.8e-8},{"freq":50.1,"size":8.5e-8},{"freq":58.9,"size":1.23e-7},{"freq":77.6,"size":1.38e-7},{"freq":89.1,"size":6.8e-8},{"freq":132,"size":2.04e-7},{"freq":141,"size":1.86e-7},{"freq":170,"size":7.4e-8},{"freq":1.02,"size":1.05e-7},{"freq":0.69,"size":4.1e-8},{"freq":8.3,"size":8.3e-8},{"freq":11.5,"size":7.4e-8},{"freq":13.8,"size":5.5e-8},{"freq":17,"size":6.8e-8},{"freq":20.4,"size":5.5e-8},{"freq":24.5,"size":4.5e-8},{"freq":26.3,"size":3.6e-8},{"freq":31.6,"size":5.5e-8},{"freq":38.9,"size":5e-8},{"freq":44.7,"size":5.75e-8},{"freq":46.8,"size":3.6e-8},{"freq":41.7,"size":3e-8},{"freq":43.7,"size":2.45e-8},{"freq":6.2,"size":2.7e-8},{"freq":7.8,"size":2.45e-8},{"freq":9.3,"size":3e-8},{"freq":11.5,"size":3.3e-8},{"freq":13.8,"size":3.6e-8},{"freq":15.8,"size":2.45e-8},{"freq":17.8,"size":2.7e-8},{"freq":22.4,"size":4.1e-8},{"freq":26.3,"size":4.3e-8},{"freq":30.2,"size":3.6e-8},{"freq":5.9,"size":1.35e-8},{"freq":11.2,"size":1.35e-8},{"freq":14.8,"size":1.48e-8},{"freq":17.4,"size":1.82e-8},{"freq":20.4,"size":2e-8},{"freq":36.3,"size":1.2e-8},{"freq":38.9,"size":1.62e-8},{"freq":41.7,"size":2.1e-8},{"freq":6.2,"size":6.2e-9},{"freq":9.8,"size":5.75e-9},{"freq":10.5,"size":4.7e-9},{"freq":22.4,"size":5.75e-9},{"freq":28.2,"size":6.2e-9},{"freq":25.1,"size":4.3e-9},{"freq":2.3,"size":4.3e-9},{"freq":20.9,"size":1.82e-9},{"freq":28.8,"size":2.4e-9},{"freq":3.2,"size":9.5e-10},{"freq":5.9,"size":1.1e-9},{"freq":8.1,"size":1.45e-9},{"freq":11.5,"size":6.8e-10},{"freq":7.9,"size":4.9e-10},{"freq":17,"size":8.91e-11},
{"freq":12.9,"size":4.6e-7},{"freq":21.4,"size":2.24e-7},{"freq":18.2,"size":3.4e-7},{"freq":31.6,"size":1.86e-7},{"freq":41.7,"size":2.1e-7},{"freq":23.4,"size":1.66e-7},{"freq":12.9,"size":1.86e-7},{"freq":10,"size":9.5e-8},{"freq":14.8,"size":1.02e-7},{"freq":28.2,"size":7.4e-8},{"freq":60.3,"size":3e-7},{"freq":100,"size":2.5e-7},{"freq":74.1,"size":1.86e-7},{"freq":11.5,"size":4.9e-8},{"freq":7.2,"size":4.9e-8},{"freq":53.7,"size":3.4e-8},{"freq":126,"size":1.15e-7},{"freq":20,"size":3e-8}
]
},
"hconcat": [
{
  "width": 922,
  "height": 542,
  "title": {"text": "Burst Frequency and Burst Size", "offset": 4, "dx": -10},
  "layer": [
    {
      "data": {"name": "regions"},
      "mark": {"type": "rect", "stroke": "#666666", "strokeWidth": 1},
      "encoding": {
        "x": {"field": "freq_min", "type": "quantitative", "title": "Burst Frequency",
              "scale": {"type": "log", "domain": [1.14e-11, 33300], "nice": false},
              "axis": {"values": [1e-7, 1e-3, 10], "labelExpr": "datum.value < 1e-5 ? '1e-07' : (datum.value < 1 ? '1e-03' : '1e+01')", "labelPadding": 5, "titlePadding": 1}},
        "x2": {"field": "freq_max"},
        "y": {"field": "size_min", "type": "quantitative", "title": "Burst Size",
              "scale": {"type": "log", "domain": [2e-11, 4270], "nice": false},
              "axis": {"values": [1e-7, 1e-3, 10], "labelExpr": "datum.value < 1e-5 ? '1e-07' : (datum.value < 1 ? '1e-03' : '1e+01')", "titlePadding": 3}},
        "y2": {"field": "size_max"},
        "fill": {"field": "region", "type": "nominal",
                 "scale": {"domain": ["Lower Right", "Main Cluster", "Tail", "Upper Right"], "range": ["#84A97F", "#C47DF0", "#8080FF", "#FFFF80"]},
                 "legend": null}
      }
    },
    {
      "data": {"name": "points"},
      "mark": {"type": "circle", "size": 36, "color": "black", "opacity": 1},
      "encoding": {
        "x": {"field": "freq", "type": "quantitative", "title": "Burst Frequency", "scale": {"type": "log", "domain": [1.14e-11, 33300], "nice": false}},
        "y": {"field": "size", "type": "quantitative", "title": "Burst Size", "scale": {"type": "log", "domain": [2e-11, 4270], "nice": false}}
      }
    }
  ]
},
{
  "width": 110,
  "height": 174,
  "data": {"name": "regions"},
  "encoding": {
    "y": {"field": "region", "type": "nominal", "sort": ["Lower Right", "Main Cluster", "Tail", "Upper Right"],
          "scale": {"paddingInner": 0, "paddingOuter": 0.175, "align": 1}, "axis": null}
  },
  "layer": [
    {
      "mark": {"type": "bar", "height": 12, "yOffset": 7, "stroke": "#666666", "strokeWidth": 1},
      "encoding": {
        "x": {"datum": 0, "type": "quantitative", "scale": {"domain": [0, 1]}, "axis": null},
        "x2": {"datum": 1},
        "fill": {"field": "region", "type": "nominal",
                 "scale": {"domain": ["Lower Right", "Main Cluster", "Tail", "Upper Right"], "range": ["#84A97F", "#C47DF0", "#8080FF", "#FFFF80"]},
                 "legend": null}
      }
    },
    {
      "mark": {"type": "text", "fontSize": 19, "dy": -4, "baseline": "alphabetic", "align": "center", "color": "black"},
      "encoding": {
        "x": {"datum": 0.5, "type": "quantitative"},
        "text": {"field": "region"}
      }
    }
  ]
}
]
}
